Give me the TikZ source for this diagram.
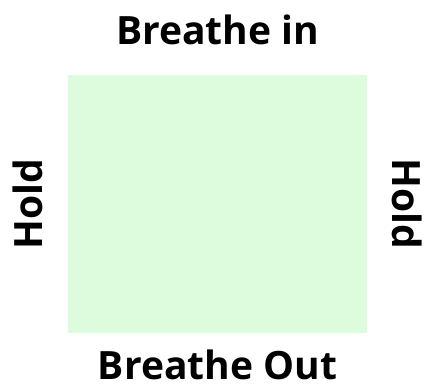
\documentclass[tikz,border=0pt]{standalone}
\usepackage{fontspec}
\setmainfont{Open Sans}
\usepackage{tikz}
\usetikzlibrary{positioning}
\definecolor{breathgreen}{RGB}{221, 252, 221}

\begin{document}
\begin{tikzpicture}[
    x=0.5pt, y=0.5pt,
    every node/.style={font=\fontsize{19.5}{22}\selectfont\bfseries, inner sep=0pt},
    cue/.style={text=black}
]
\useasboundingbox (0,0) rectangle (424,387);
\node[fill=breathgreen, minimum width=149.5pt, minimum height=129pt] (box) at (217.5,183) {};
\node[cue, above=14.5pt of box] (inhale) {Breathe in};
\node[cue, below=23pt of box, anchor=base] (exhale) {Breathe Out};
\node[cue, rotate=90, anchor=south] (holdleft) at ([xshift=-12pt]box.west) {Hold};
\node[cue, rotate=-90, anchor=south] (holdright) at ([xshift=12pt]box.east) {Hold};
\end{tikzpicture}
\end{document}
